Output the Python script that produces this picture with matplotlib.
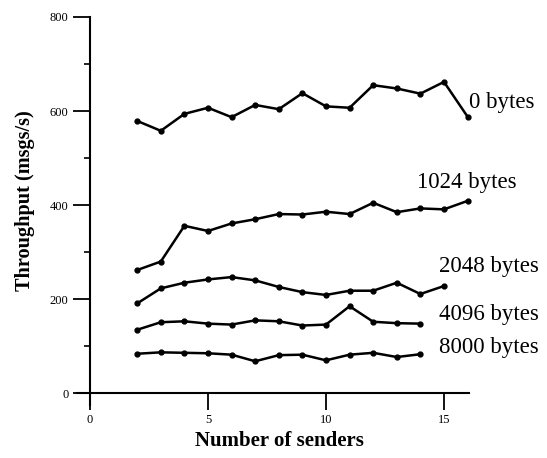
import matplotlib
matplotlib.use("Agg")
from matplotlib import pyplot as plt
from matplotlib.ticker import MultipleLocator

# throughput vs number of senders, one series per message size
senders = list(range(2, 17))
tp_0 = [579, 558, 594, 607, 587, 613, 604, 638, 610, 607, 655, 648, 637, 662, 588]
tp_1024 = [262, 280, 356, 345, 361, 370, 381, 380, 386, 381, 405, 385, 393, 391, 409]
tp_2048 = [191, 223, 235, 242, 247, 240, 226, 215, 209, 218, 218, 235, 211, 228]
tp_4096 = [135, 151, 153, 148, 146, 155, 153, 144, 146, 185, 152, 149, 148]
tp_8000 = [84, 87, 86, 85, 82, 68, 81, 82, 70, 82, 86, 77, 83]

series = [
    (senders, tp_0, "0 bytes", 16.05, 619),
    (senders, tp_1024, "1024 bytes", 13.85, 449),
    (senders[:14], tp_2048, "2048 bytes", 14.8, 269),
    (senders[:13], tp_4096, "4096 bytes", 14.8, 168),
    (senders[:13], tp_8000, "8000 bytes", 14.8, 98),
]

serif = ["Liberation Serif", "DejaVu Serif"]
plt.rcParams['font.family'] = serif

fig = plt.figure(figsize=(5.47, 4.58), dpi=100)
ax = fig.add_axes([0.1408, 0.1157, 0.7166, 0.8472])

for xs, ys, name, lx, ly in series:
    ax.plot(xs, ys, color="black", lw=1.8, marker="o", ms=3.5, clip_on=False)
    ax.text(lx, ly, name, fontsize=16.5, va="center", ha="left", clip_on=False)

ax.set_xlim(-0.55, 16.06)
ax.set_ylim(-25, 800)

ax.spines['left'].set_position(('data', 0))
ax.spines['bottom'].set_position(('data', 0))
ax.spines['right'].set_visible(False)
ax.spines['top'].set_visible(False)
for s in ['left', 'bottom']:
    ax.spines[s].set_linewidth(1.5)

ax.set_xticks([0, 5, 10, 15])
ax.set_yticks([0, 200, 400, 600, 800])
ax.yaxis.set_minor_locator(MultipleLocator(100))
ax.tick_params(axis='both', which='major', direction='out', length=12, width=1.3, labelsize=9)
ax.tick_params(axis='y', which='minor', direction='out', length=4, width=1.2)
ax.tick_params(axis='x', which='major', pad=3)

fig.text(0.51, 0.037, "Number of senders", fontsize=15, fontweight="bold", ha="center", va="center")
fig.text(0.046, 0.563, "Throughput (msgs/s)", fontsize=14.6, fontweight="bold", ha="center", va="center", rotation=90)

plt.savefig("out.png", dpi=100)
